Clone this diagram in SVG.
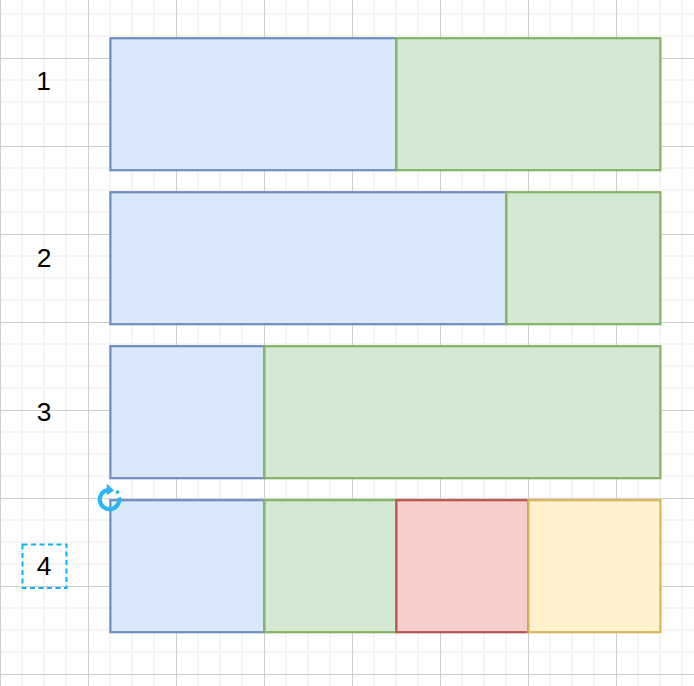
<svg xmlns="http://www.w3.org/2000/svg" width="694" height="686" viewBox="0 0 694 686">
<defs>
<style>
.minor{stroke:#f5f5f5;stroke-width:2;fill:none}
.major{stroke:#cfcfcf;stroke-width:1;fill:none}
.box{stroke-width:2.2}
.blue{fill:#dae8fc;stroke:#6c8ebf}
.green{fill:#d5e8d4;stroke:#82b366}
.red{fill:#f8cecc;stroke:#b85450}
.yellow{fill:#fff2cc;stroke:#d6b656}
.lbl{font-family:"Liberation Sans",Arial,sans-serif;font-size:26.4px;fill:#000;text-anchor:middle}
</style>
</defs>
<rect width="694" height="686" fill="#fff"/>
<path id="grid-minor" class="minor" d="M22 0V686M44 0V686M66 0V686M110 0V686M132 0V686M154 0V686M198 0V686M220 0V686M242 0V686M286 0V686M308 0V686M330 0V686M374 0V686M396 0V686M418 0V686M462 0V686M484 0V686M506 0V686M550 0V686M572 0V686M594 0V686M638 0V686M660 0V686M682 0V686M0 14H694M0 36H694M0 80H694M0 102H694M0 124H694M0 168H694M0 190H694M0 212H694M0 256H694M0 278H694M0 300H694M0 344H694M0 366H694M0 388H694M0 432H694M0 454H694M0 476H694M0 520H694M0 542H694M0 564H694M0 608H694M0 630H694M0 652H694"/>
<path id="grid-major" class="major" d="M0.500 0V686M88.500 0V686M176.500 0V686M264.500 0V686M352.500 0V686M440.500 0V686M528.500 0V686M616.500 0V686M0 58.500H694M0 146.500H694M0 234.500H694M0 322.500H694M0 410.500H694M0 498.500H694M0 586.500H694M0 674.500H694"/>
<g id="row1">
<rect class="box blue" x="110.400" y="38.200" width="286" height="132"/>
<rect class="box green" x="396.400" y="38.200" width="264" height="132"/>
</g>
<g id="row2">
<rect class="box blue" x="110.400" y="192.200" width="396" height="132"/>
<rect class="box green" x="506.400" y="192.200" width="154" height="132"/>
</g>
<g id="row3">
<rect class="box blue" x="110.400" y="346.200" width="154" height="132"/>
<rect class="box green" x="264.400" y="346.200" width="396" height="132"/>
</g>
<g id="row4">
<rect class="box blue" x="110.400" y="500.200" width="154" height="132"/>
<rect class="box green" x="264.400" y="500.200" width="132" height="132"/>
<rect class="box red" x="396.400" y="500.200" width="132" height="132"/>
<rect class="box yellow" x="528.400" y="500.200" width="132" height="132"/>
</g>
<g id="label1"><text class="lbl" x="43.500" y="90">1</text></g>
<g id="label2"><text class="lbl" x="44" y="267">2</text></g>
<g id="label3"><text class="lbl" x="44" y="421">3</text></g>
<g id="label4">
<rect x="22.500" y="544.500" width="44" height="43.500" fill="none" stroke="#0cb0fa" stroke-width="2" stroke-dasharray="5 3.500"/>
<text class="lbl" x="44" y="575">4</text>
</g>
<g id="rotate-handle" fill="none" stroke="#29b6f2">
<path d="M107.500 490A9.700 9.700 0 1 0 119 497.500" stroke-width="4.200"/>
<path d="M116.500 491l2 2.200" stroke-width="3.600"/>
<path d="M106.800 483.500L114 490.500L106.800 495.500Z" fill="#29b6f2" stroke="none"/>
</g>
</svg>
